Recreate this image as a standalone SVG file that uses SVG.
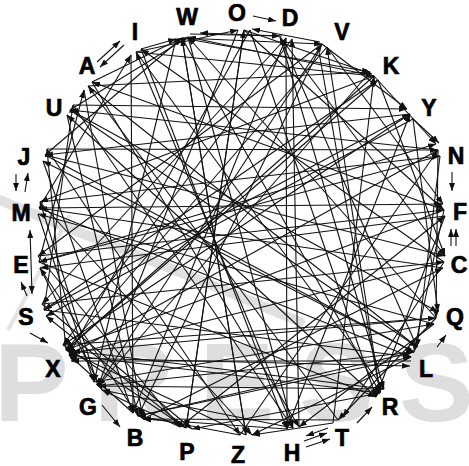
<svg xmlns="http://www.w3.org/2000/svg" width="469" height="466" viewBox="0 0 469 466">
<defs>
<marker id="arr" viewBox="0 0 8 6" refX="8" refY="3" markerWidth="8" markerHeight="6" markerUnits="userSpaceOnUse" orient="auto-start-reverse"><path d="M0,0 L8,3 L0,6 z" fill="#111"/></marker>
</defs>
<style>
.wm{fill:#dedede;font-family:"Liberation Sans",Arial,sans-serif;font-weight:bold}
.edges line{stroke:#111;stroke-width:1.1;marker-end:url(#arr)}
.lbl{font-family:"Liberation Sans",Arial,sans-serif;font-weight:bold;font-size:23px;fill:#000;stroke:#000;stroke-width:0.7;text-anchor:middle}
</style>
<rect width="469" height="466" fill="#fff"/>
<g id="watermark">
<path d="M0 200 C70 230 160 262 300 322" fill="none" stroke="#e0e0e0" stroke-width="10" stroke-linecap="round"/>
<line x1="8" y1="330" x2="70" y2="215" stroke="#e4e4e4" stroke-width="4"/>
<text class="wm" x="-6" y="421" font-size="112" letter-spacing="25">PRESS</text>
</g>
<g id="edges" class="edges">
<line x1="286" y1="38" x2="287" y2="429"/>
<line x1="299" y1="427" x2="292" y2="39"/>
<line x1="182" y1="38" x2="246" y2="435"/>
<line x1="244" y1="30" x2="186" y2="428"/>
<line x1="322" y1="44" x2="138" y2="416"/>
<line x1="374" y1="76" x2="66" y2="350"/>
<line x1="370" y1="72" x2="98" y2="386"/>
<line x1="410" y1="114" x2="63" y2="345"/>
<line x1="438" y1="150" x2="69" y2="355"/>
<line x1="444" y1="210" x2="66" y2="350"/>
<line x1="444" y1="262" x2="69" y2="355"/>
<line x1="436" y1="318" x2="72" y2="352"/>
<line x1="70" y1="358" x2="410" y2="366"/>
<line x1="411" y1="361" x2="71" y2="361"/>
<line x1="380" y1="393" x2="69" y2="355"/>
<line x1="70" y1="110" x2="417" y2="347"/>
<line x1="45" y1="155" x2="414" y2="352"/>
<line x1="39" y1="208" x2="411" y2="357"/>
<line x1="88" y1="86" x2="417" y2="347"/>
<line x1="136" y1="52" x2="384" y2="389"/>
<line x1="182" y1="38" x2="380" y2="393"/>
<line x1="250" y1="30" x2="376" y2="397"/>
<line x1="280" y1="37" x2="384" y2="389"/>
<line x1="317" y1="41" x2="380" y2="393"/>
<line x1="39" y1="262" x2="376" y2="397"/>
<line x1="44" y1="310" x2="411" y2="357"/>
<line x1="98" y1="386" x2="414" y2="352"/>
<line x1="138" y1="416" x2="411" y2="357"/>
<line x1="66" y1="350" x2="384" y2="389"/>
<line x1="188" y1="37" x2="293" y2="428"/>
<line x1="141" y1="49" x2="287" y2="429"/>
<line x1="92" y1="82" x2="299" y2="427"/>
<line x1="73" y1="105" x2="293" y2="428"/>
<line x1="47" y1="149" x2="240" y2="435"/>
<line x1="40" y1="202" x2="252" y2="435"/>
<line x1="38" y1="256" x2="180" y2="427"/>
<line x1="42" y1="304" x2="192" y2="429"/>
<line x1="63" y1="345" x2="186" y2="428"/>
<line x1="131" y1="55" x2="133" y2="413"/>
<line x1="84" y1="90" x2="143" y2="419"/>
<line x1="67" y1="115" x2="138" y2="416"/>
<line x1="43" y1="161" x2="133" y2="413"/>
<line x1="38" y1="214" x2="94" y2="382"/>
<line x1="40" y1="268" x2="102" y2="390"/>
<line x1="238" y1="30" x2="98" y2="386"/>
<line x1="176" y1="39" x2="94" y2="382"/>
<line x1="292" y1="39" x2="63" y2="345"/>
<line x1="327" y1="47" x2="66" y2="350"/>
<line x1="378" y1="80" x2="44" y2="310"/>
<line x1="413" y1="119" x2="46" y2="316"/>
<line x1="440" y1="156" x2="39" y2="262"/>
<line x1="445" y1="216" x2="40" y2="268"/>
<line x1="443" y1="268" x2="39" y2="208"/>
<line x1="434" y1="324" x2="38" y2="214"/>
<line x1="414" y1="352" x2="43" y2="161"/>
<line x1="376" y1="397" x2="67" y2="115"/>
<line x1="338" y1="420" x2="88" y2="86"/>
<line x1="293" y1="428" x2="136" y2="52"/>
<line x1="246" y1="435" x2="182" y2="38"/>
<line x1="186" y1="428" x2="244" y2="30"/>
<line x1="133" y1="413" x2="286" y2="38"/>
<line x1="98" y1="386" x2="322" y2="44"/>
<line x1="66" y1="350" x2="378" y2="80"/>
<line x1="44" y1="310" x2="410" y2="114"/>
<line x1="39" y1="262" x2="436" y2="144"/>
<line x1="39" y1="208" x2="443" y2="204"/>
<line x1="45" y1="155" x2="445" y2="256"/>
<line x1="70" y1="110" x2="438" y2="312"/>
<line x1="88" y1="86" x2="370" y2="72"/>
<line x1="136" y1="52" x2="374" y2="76"/>
<line x1="182" y1="38" x2="370" y2="72"/>
<line x1="244" y1="30" x2="372" y2="74"/>
<line x1="73" y1="105" x2="407" y2="109"/>
<line x1="47" y1="149" x2="438" y2="150"/>
<line x1="40" y1="202" x2="440" y2="156"/>
<line x1="38" y1="256" x2="444" y2="210"/>
<line x1="42" y1="304" x2="444" y2="262"/>
<line x1="63" y1="345" x2="436" y2="318"/>
<line x1="94" y1="382" x2="434" y2="324"/>
<line x1="143" y1="419" x2="443" y2="268"/>
<line x1="180" y1="427" x2="445" y2="216"/>
<line x1="240" y1="435" x2="438" y2="150"/>
<line x1="287" y1="429" x2="410" y2="114"/>
<line x1="333" y1="423" x2="374" y2="76"/>
<line x1="380" y1="393" x2="327" y2="47"/>
<line x1="417" y1="347" x2="280" y2="37"/>
<line x1="436" y1="318" x2="188" y2="37"/>
<line x1="444" y1="262" x2="141" y2="49"/>
<line x1="444" y1="210" x2="92" y2="82"/>
<line x1="438" y1="150" x2="70" y2="110"/>
<line x1="410" y1="114" x2="45" y2="155"/>
<line x1="374" y1="76" x2="40" y2="202"/>
<line x1="322" y1="44" x2="38" y2="256"/>
<line x1="286" y1="38" x2="42" y2="304"/>
<line x1="250" y1="30" x2="69" y2="355"/>
<line x1="190" y1="34" x2="280" y2="36"/>
<line x1="141" y1="49" x2="176" y2="39"/>
<line x1="92" y1="82" x2="182" y2="38"/>
<line x1="70" y1="110" x2="188" y2="37"/>
<line x1="45" y1="155" x2="182" y2="38"/>
<line x1="39" y1="208" x2="131" y2="55"/>
<line x1="39" y1="262" x2="84" y2="90"/>
<line x1="44" y1="310" x2="73" y2="105"/>
<line x1="66" y1="350" x2="47" y2="149"/>
<line x1="98" y1="386" x2="40" y2="202"/>
<line x1="138" y1="416" x2="40" y2="268"/>
<line x1="186" y1="428" x2="46" y2="316"/>
<line x1="246" y1="435" x2="66" y2="350"/>
<line x1="293" y1="428" x2="102" y2="390"/>
<line x1="338" y1="420" x2="143" y2="419"/>
<line x1="380" y1="393" x2="192" y2="429"/>
<line x1="411" y1="357" x2="252" y2="435"/>
<line x1="434" y1="324" x2="299" y2="427"/>
<line x1="444" y1="262" x2="343" y2="417"/>
<line x1="445" y1="216" x2="376" y2="397"/>
<line x1="440" y1="156" x2="417" y2="347"/>
<line x1="413" y1="119" x2="438" y2="312"/>
<line x1="378" y1="80" x2="445" y2="256"/>
<line x1="327" y1="47" x2="443" y2="204"/>
<line x1="444" y1="210" x2="414" y2="352"/>
<line x1="438" y1="150" x2="436" y2="318"/>
<line x1="374" y1="76" x2="436" y2="144"/>
<line x1="322" y1="44" x2="407" y2="109"/>
<line x1="182" y1="38" x2="322" y2="44"/>
<line x1="136" y1="52" x2="238" y2="30"/>
<line x1="384" y1="389" x2="98" y2="386"/>
<line x1="414" y1="352" x2="138" y2="416"/>
<line x1="436" y1="318" x2="338" y2="420"/>
<line x1="333" y1="423" x2="252" y2="435"/>
<line x1="133" y1="413" x2="69" y2="355"/>
<line x1="180" y1="427" x2="102" y2="390"/>
<line x1="287" y1="429" x2="143" y2="419"/>
<line x1="240" y1="435" x2="138" y2="416"/>
<line x1="280" y1="37" x2="445" y2="256"/>
<line x1="244" y1="30" x2="444" y2="210"/>
<line x1="282" y1="36" x2="200" y2="33"/>
<line x1="320" y1="42" x2="252" y2="29"/>
<line x1="374" y1="76" x2="188" y2="37"/>
<line x1="412" y1="118" x2="439" y2="143"/>
<line x1="253" y1="16" x2="276" y2="21"/>
<line x1="97" y1="62" x2="120" y2="41"/>
<line x1="124" y1="45" x2="100" y2="67"/>
<line x1="16" y1="174" x2="16" y2="191"/>
<line x1="25" y1="192" x2="28" y2="173"/>
<line x1="452" y1="172" x2="452" y2="191"/>
<line x1="451" y1="246" x2="451" y2="229"/>
<line x1="456" y1="246" x2="456" y2="229"/>
<line x1="30" y1="230" x2="32" y2="294" marker-start="url(#arr)"/>
<line x1="27" y1="296" x2="21" y2="282"/>
<line x1="30" y1="333" x2="48" y2="343"/>
<line x1="102" y1="405" x2="120" y2="427"/>
<line x1="437" y1="347" x2="446" y2="335"/>
<line x1="357" y1="423" x2="372" y2="407"/>
<line x1="306" y1="447" x2="330" y2="439"/>
<line x1="304" y1="441" x2="327" y2="433"/>
<line x1="328" y1="428" x2="306" y2="436"/>
</g>
<g id="node-O"><text class="lbl" x="237" y="21">O</text></g>
<g id="node-D"><text class="lbl" x="290" y="26">D</text></g>
<g id="node-V"><text class="lbl" x="342" y="40">V</text></g>
<g id="node-K"><text class="lbl" x="391" y="74">K</text></g>
<g id="node-Y"><text class="lbl" x="429" y="116">Y</text></g>
<g id="node-N"><text class="lbl" x="456" y="164">N</text></g>
<g id="node-F"><text class="lbl" x="460" y="220">F</text></g>
<g id="node-C"><text class="lbl" x="459" y="273">C</text></g>
<g id="node-Q"><text class="lbl" x="455" y="325">Q</text></g>
<g id="node-L"><text class="lbl" x="426" y="377">L</text></g>
<g id="node-R"><text class="lbl" x="390" y="415">R</text></g>
<g id="node-T"><text class="lbl" x="342" y="446">T</text></g>
<g id="node-H"><text class="lbl" x="292" y="461">H</text></g>
<g id="node-Z"><text class="lbl" x="238" y="463">Z</text></g>
<g id="node-P"><text class="lbl" x="187" y="460">P</text></g>
<g id="node-B"><text class="lbl" x="135" y="446">B</text></g>
<g id="node-G"><text class="lbl" x="88" y="415">G</text></g>
<g id="node-X"><text class="lbl" x="53" y="377">X</text></g>
<g id="node-S"><text class="lbl" x="26" y="325">S</text></g>
<g id="node-E"><text class="lbl" x="21" y="273">E</text></g>
<g id="node-M"><text class="lbl" x="21" y="221">M</text></g>
<g id="node-J"><text class="lbl" x="24" y="165">J</text></g>
<g id="node-U"><text class="lbl" x="54" y="116">U</text></g>
<g id="node-A"><text class="lbl" x="87" y="74">A</text></g>
<g id="node-I"><text class="lbl" x="135" y="40">I</text></g>
<g id="node-W"><text class="lbl" x="187" y="25">W</text></g>
</svg>
